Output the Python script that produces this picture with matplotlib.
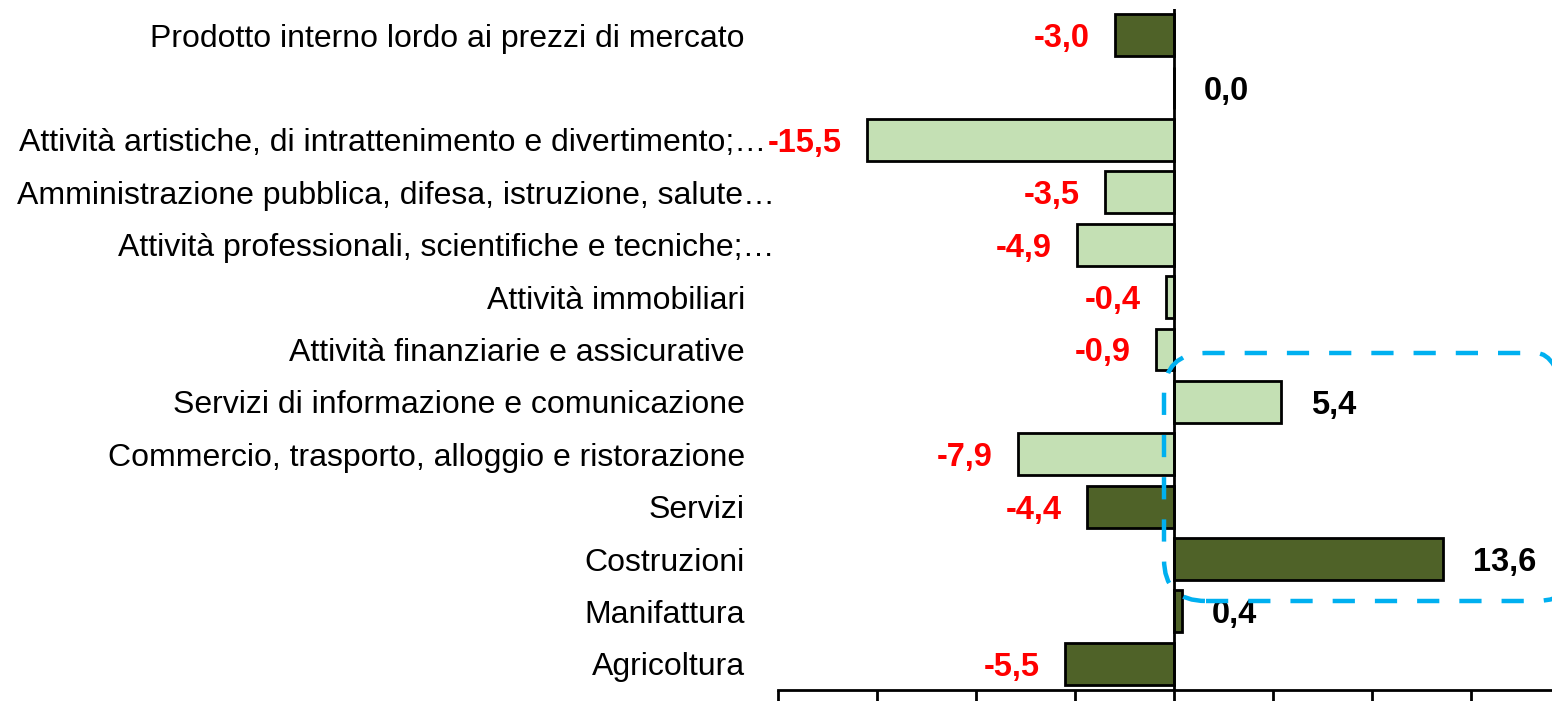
import matplotlib
matplotlib.use('Agg')
import matplotlib.pyplot as plt
from matplotlib import font_manager
from matplotlib.patches import FancyBboxPatch
from matplotlib.transforms import IdentityTransform, blended_transform_factory

# data (bottom to top)
categories = [
    "Agricoltura",
    "Manifattura",
    "Costruzioni",
    "Servizi",
    "Commercio, trasporto, alloggio e ristorazione",
    "Servizi di informazione e comunicazione",
    "Attività finanziarie e assicurative",
    "Attività immobiliari",
    "Attività professionali, scientifiche e tecniche;…",
    "Amministrazione pubblica, difesa, istruzione, salute…",
    "Attività artistiche, di intrattenimento e divertimento;…",
    "",
    "Prodotto interno lordo ai prezzi di mercato",
]
values = [-5.5, 0.4, 13.6, -4.4, -7.9, 5.4, -0.9, -0.4, -4.9, -3.5, -15.5, 0.0, -3.0]
dark = [True, True, True, True, False, False, False, False, False, False, False, False, True]

DARK = "#4f6228"
LIGHT = "#c4e0b4"

names = {f.name for f in font_manager.fontManager.ttflist}
font = "Liberation Sans Narrow" if "Liberation Sans Narrow" in names else "Liberation Sans"
plt.rcParams['font.family'] = [font, 'DejaVu Sans']

fig = plt.figure(figsize=(15.52, 7.01), dpi=100)
ax = fig.add_axes([778 / 1552, 11 / 701, 1 - 778 / 1552, 681 / 701])

y = list(range(len(categories)))
colors = [DARK if d else LIGHT for d in dark]
ax.barh(y, values, height=0.8, color=colors, edgecolor="black", linewidth=2, zorder=2)

ax.set_xlim(-20, 19.1)
ax.set_ylim(-0.5, len(categories) - 0.5)
ax.axvline(0, color="black", linewidth=2, zorder=3)

for s in ["top", "right", "left"]:
    ax.spines[s].set_visible(False)
ax.spines["bottom"].set_linewidth(2)
ax.set_xticks(range(-20, 20, 5))
ax.tick_params(axis="x", direction="out", length=11, width=2, labelbottom=False)
ax.set_yticks([])

# category labels; the truncated long ones reach almost to the axis
trans = blended_transform_factory(ax.transAxes, ax.transData)
for yi, c, v in zip(y, categories, values):
    if c.endswith("…"):
        off = -12 if v < -12 else -3
    else:
        off = -33
    ax.annotate(c, (0, yi), xycoords=trans, xytext=(off, 0), textcoords="offset pixels",
                ha="right", va="center_baseline", fontsize=23, annotation_clip=False)

for yi, v in zip(y, values):
    lbl = f"{v:.1f}".replace(".", ",")
    if v < 0:
        ax.annotate(lbl, (v, yi), xytext=(-25, 0), textcoords="offset pixels",
                    ha="right", va="center_baseline", fontsize=23.5, fontweight="bold", color="red")
    else:
        ax.annotate(lbl, (v, yi), xytext=(30, 0), textcoords="offset pixels",
                    ha="left", va="center_baseline", fontsize=23.5, fontweight="bold", color="black")

# dashed highlight box (in pixel coordinates)
x0, y0 = 1164, 701 - 601
x1, y1 = 1578, 701 - 353
box = FancyBboxPatch((x0, y0), x1 - x0, y1 - y0, boxstyle="round,pad=0,rounding_size=42",
                     transform=IdentityTransform(), fill=False, edgecolor="#00b0f0",
                     linewidth=3.2, linestyle=(0, (5, 4.5)), zorder=5, clip_on=False)
fig.patches.append(box)

fig.savefig("out.png", dpi=100)
